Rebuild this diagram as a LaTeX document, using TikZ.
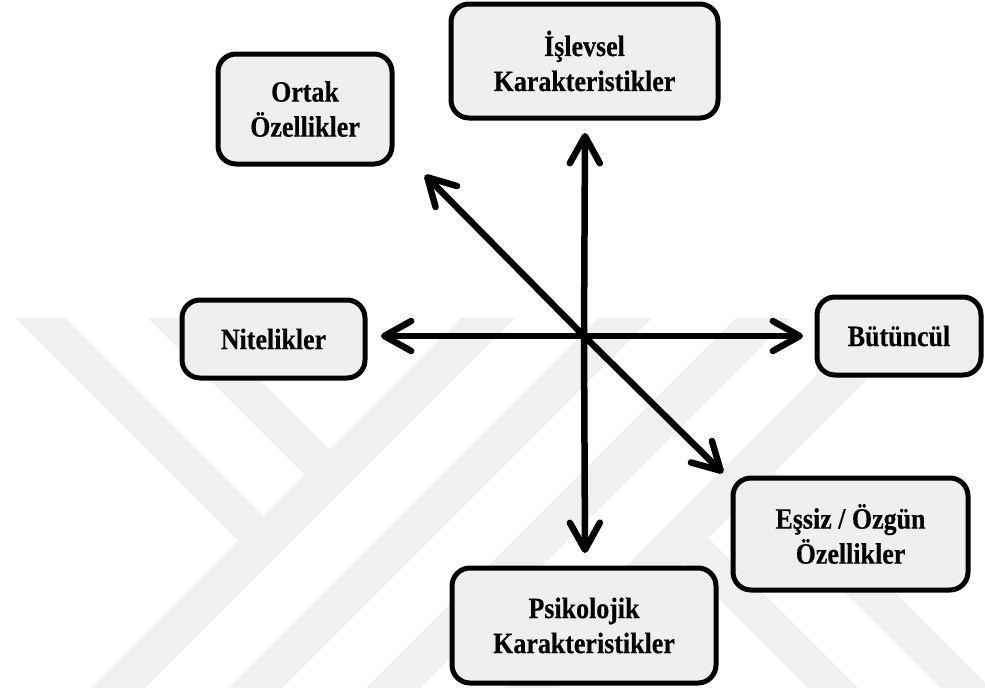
\documentclass[tikz,border=0pt]{standalone}
\usepackage{fontspec}
\usetikzlibrary{arrows.meta}
\newfontfamily\lblfont[FakeStretch=0.88,FakeBold=0.4]{Liberation Serif}
\definecolor{boxfill}{RGB}{239,239,239}
\definecolor{wmark}{RGB}{240,240,240}
\tikzset{
  box/.style={draw=black, line width=5pt, rounded corners=18pt, fill=boxfill,
    align=center, inner sep=0pt,
    font=\lblfont\bfseries\fontsize{29.5}{35}\selectfont},
  arr/.style={line width=6.5pt, -{Straight Barb[length=27pt,width=30pt,round]}},
  wm/.style={fill=wmark}
}
\begin{document}
\begin{tikzpicture}[x=1pt,y=-1pt]
\useasboundingbox (0,0) rectangle (985,691);
\fill[white] (0,0) rectangle (985,691);

% faint background emblem: four long rising bands with short falling arms
\begin{scope}
  \clip (0,318) rectangle (985,688);
  % rising bands (x+y constant along each edge)
  \fill[wm] (461,318) -- (515,318) -- (145,688) -- (91,688) -- cycle;
  \fill[wm] (598,318) -- (652,318) -- (282,688) -- (228,688) -- cycle;
  \fill[wm] (736,318) -- (790,318) -- (420,688) -- (366,688) -- cycle;
  \fill[wm] (874,318) -- (928,318) -- (558,688) -- (504,688) -- cycle;
  % falling arms on the left, ending on the first band
  \fill[wm] (16,318) -- (66,318) -- (277,529) -- (252,554) -- cycle;
  \fill[wm] (148,318) -- (198,318) -- (343,463) -- (318,488) -- cycle;
  % falling arms on the right, starting from the last band
  \fill[wm] (694.5,524.5) -- (669.5,549.5) -- (808,688) -- (858,688) -- cycle;
  \fill[wm] (760.5,458.5) -- (735.5,483.5) -- (940,688) -- (990,688) -- cycle;
\end{scope}

% boxes
\node[box, minimum width=267pt, minimum height=114pt] (isl) at (584.5,61) {İşlevsel\\Karakteristikler};
\node[box, minimum width=174pt, minimum height=110pt] (ort) at (305,109) {Ortak\\Özellikler};
\node[box, minimum width=183pt, minimum height=78pt] (nit) at (273.5,339) {Nitelikler};
\node[box, minimum width=164pt, minimum height=78pt] (but) at (899,336) {Bütüncül};
\node[box, minimum width=235pt, minimum height=112pt] (ess) at (850.5,534) {Eşsiz / Özgün\\Özellikler};
\node[box, minimum width=264pt, minimum height=115pt] (psi) at (584,625.5) {Psikolojik\\Karakteristikler};

% arrow hub and arrow tips
\coordinate (c) at (584,336);
\coordinate (tu) at (585,133);
\coordinate (td) at (585,553);
\coordinate (tl) at (381,336);
\coordinate (tr) at (803,336);
\coordinate (tul) at (425,175);
\coordinate (tdr) at (723,473);

\draw[arr] (c) -- (tu);
\draw[arr] (c) -- (td);
\draw[arr] (c) -- (tl);
\draw[arr] (c) -- (tr);
\draw[arr] (c) -- (tul);
\draw[arr] (c) -- (tdr);
\end{tikzpicture}
\end{document}
